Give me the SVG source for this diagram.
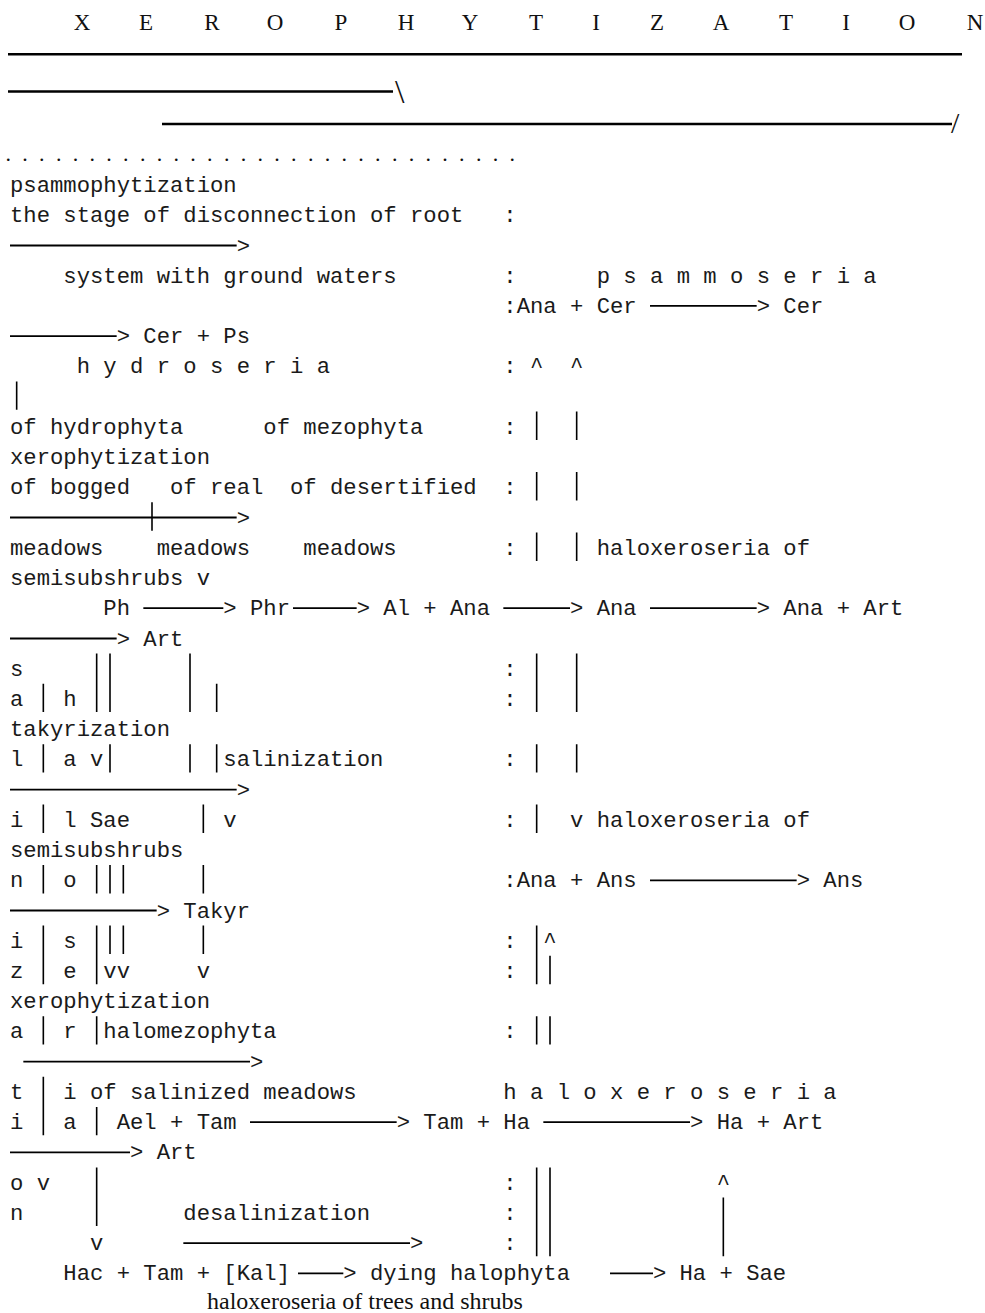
<svg xmlns="http://www.w3.org/2000/svg" width="985" height="1313" viewBox="0 0 985 1313">
<style>
.m{font-family:"Liberation Mono","Courier New",monospace;font-size:22.22px;fill:#1a1a1a;white-space:pre}
.s{font-family:"Liberation Serif","Times New Roman",serif;fill:#111}
.h{stroke:#000;stroke-width:1.8;fill:none}
.v{stroke:#000;stroke-width:1.6;fill:none}
.r{stroke:#000;stroke-width:2.6;fill:none}
</style>
<rect width="985" height="1313" fill="#fff"/>
<g id="header">
<text class="s" font-size="23" text-anchor="middle" y="29.5" x="82 114 146 179 212 243.5 275 308 341 373.5 406 438 470 503 536 566 596 626.5 657 689 721 753.5 786 816 846 876.5 907 941 975">X E R O P H Y T I Z A T I O N</text>
<text class="s" font-size="34" x="395" y="102.5">\</text>
<text class="s" font-size="30" x="951" y="133">/</text>
<text class="s" font-size="22" x="5.5" y="161" letter-spacing="11.3">...............................</text>
</g>
<g id="connectors">
<line class="r" x1="8" y1="54.3" x2="962" y2="54.3"/>
<line class="r" x1="8" y1="91.5" x2="393" y2="91.5"/>
<line class="r" x1="162" y1="124" x2="952" y2="124"/>
<line class="h" x1="10" y1="245.5" x2="236.67" y2="245.5"/>
<line class="h" x1="650" y1="305.9" x2="756.67" y2="305.9"/>
<line class="h" x1="10" y1="336.2" x2="116.67" y2="336.2"/>
<line class="h" x1="10" y1="517.5" x2="236.67" y2="517.5"/>
<line class="v" x1="152" y1="502.3" x2="152" y2="530.7"/>
<line class="h" x1="143.33" y1="608.2" x2="223.33" y2="608.2"/>
<line class="h" x1="293" y1="608.2" x2="356.67" y2="608.2"/>
<line class="h" x1="503.33" y1="608.2" x2="570" y2="608.2"/>
<line class="h" x1="650" y1="608.2" x2="756.67" y2="608.2"/>
<line class="h" x1="10" y1="638.5" x2="116.67" y2="638.5"/>
<line class="h" x1="10" y1="789.6" x2="236.67" y2="789.6"/>
<line class="h" x1="650" y1="880.3" x2="796.67" y2="880.3"/>
<line class="h" x1="10" y1="910.5" x2="156.67" y2="910.5"/>
<line class="h" x1="23.33" y1="1061.7" x2="250" y2="1061.7"/>
<line class="h" x1="250" y1="1122.1" x2="396.67" y2="1122.1"/>
<line class="h" x1="543.33" y1="1122.1" x2="690" y2="1122.1"/>
<line class="h" x1="10" y1="1152.4" x2="130" y2="1152.4"/>
<line class="h" x1="183.33" y1="1243.1" x2="410" y2="1243.1"/>
<line class="h" x1="298" y1="1273.3" x2="343.33" y2="1273.3"/>
<line class="h" x1="610" y1="1273.3" x2="653" y2="1273.3"/>
<path class="v" d="M16.67 381.4V409.8
M536.67 411.6V440M536.67 472.1V500.5M536.67 532.6V561M536.67 653.5V712.1M536.67 744.2V772.6M536.67 804.6V833M536.67 925.6V984.2M536.67 1016.2V1044.6M536.67 1167.4V1256.3
M576.67 411.6V440M576.67 472.1V500.5M576.67 532.6V561M576.67 653.5V712.1M576.67 744.2V772.6
M550 955.8V984.2M550 1016.2V1044.6M550 1167.4V1256.3
M43.33 683.7V712.1M43.33 744.2V772.6M43.33 804.6V833M43.33 865.1V893.5M43.33 925.6V984.2M43.33 1016.2V1044.6M43.33 1076.7V1135.3
M96.67 653.5V712.1M96.67 865.1V893.5M96.67 925.6V984.2M96.67 1016.2V1044.6M96.67 1106.9V1135.3M96.67 1167.4V1226
M110 653.5V712.1M110 744.2V772.6M110 865.1V893.5M110 925.6V954
M123.33 865.1V893.5M123.33 925.6V954
M190 653.5V712.1M190 744.2V772.6
M216.67 683.7V712.1M216.67 744.2V772.6
M203.33 804.6V833M203.33 865.1V893.5M203.33 925.6V954
M723.33 1197.6V1256.3"/>
</g>
<g id="left-column">
<text class="m" x="10" y="192">psammophytization</text>
<text class="m" x="10" y="222.2">the stage of disconnection of root</text>
<text class="m" x="236.67" y="252.5">&gt;</text>
<text class="m" x="63.33" y="282.7">system with ground waters</text>
<text class="m" x="116.67" y="343.2">&gt;</text>
<text class="m" x="143.33" y="343.2">Cer + Ps</text>
<text class="m" x="76.67" y="373.4">h y d r o s e r i a</text>
<text class="m" x="10" y="433.8">of hydrophyta</text>
<text class="m" x="263.33" y="433.8">of mezophyta</text>
<text class="m" x="10" y="464.1">xerophytization</text>
<text class="m" x="10" y="494.3">of bogged</text>
<text class="m" x="170" y="494.3">of real</text>
<text class="m" x="290" y="494.3">of desertified</text>
<text class="m" x="236.67" y="524.5">&gt;</text>
<text class="m" x="10" y="554.8">meadows</text>
<text class="m" x="156.67" y="554.8">meadows</text>
<text class="m" x="303.33" y="554.8">meadows</text>
<text class="m" x="10" y="585">semisubshrubs v</text>
</g>
<g id="main-row">
<text class="m" x="103.33" y="615.2">Ph</text>
<text class="m" x="223.33" y="615.2">&gt;</text>
<text class="m" x="250" y="615.2">Phr</text>
<text class="m" x="356.67" y="615.2">&gt;</text>
<text class="m" x="383.33" y="615.2">Al + Ana</text>
<text class="m" x="570" y="615.2">&gt;</text>
<text class="m" x="596.67" y="615.2">Ana</text>
<text class="m" x="756.67" y="615.2">&gt;</text>
<text class="m" x="783.33" y="615.2">Ana + Art</text>
<text class="m" x="116.67" y="645.5">&gt;</text>
<text class="m" x="143.33" y="645.5">Art</text>
</g>
<g id="salinization-block">
<text class="m" x="10" y="675.7">s</text>
<text class="m" x="10" y="705.9">a</text>
<text class="m" x="63.33" y="705.9">h</text>
<text class="m" x="10" y="736.1">takyrization</text>
<text class="m" x="10" y="766.4">l</text>
<text class="m" x="63.33" y="766.4">a</text>
<text class="m" x="90" y="766.4">v</text>
<text class="m" x="223.33" y="766.4">salinization</text>
<text class="m" x="236.67" y="796.6">&gt;</text>
<text class="m" x="10" y="826.8">i</text>
<text class="m" x="63.33" y="826.8">l</text>
<text class="m" x="90" y="826.8">Sae</text>
<text class="m" x="223.33" y="826.8">v</text>
<text class="m" x="10" y="857.1">semisubshrubs</text>
<text class="m" x="10" y="887.3">n</text>
<text class="m" x="63.33" y="887.3">o</text>
<text class="m" x="156.67" y="917.5">&gt;</text>
<text class="m" x="183.33" y="917.5">Takyr</text>
<text class="m" x="10" y="947.8">i</text>
<text class="m" x="63.33" y="947.8">s</text>
<text class="m" x="10" y="978">z</text>
<text class="m" x="63.33" y="978">e</text>
<text class="m" x="103.33" y="978">vv</text>
<text class="m" x="196.67" y="978">v</text>
<text class="m" x="10" y="1008.2">xerophytization</text>
<text class="m" x="10" y="1038.4">a</text>
<text class="m" x="63.33" y="1038.4">r</text>
<text class="m" x="103.33" y="1038.4">halomezophyta</text>
<text class="m" x="250" y="1068.7">&gt;</text>
<text class="m" x="10" y="1098.9">t</text>
<text class="m" x="63.33" y="1098.9">i of salinized meadows</text>
<text class="m" x="10" y="1129.1">i</text>
<text class="m" x="63.33" y="1129.1">a</text>
</g>
<g id="halo-row">
<text class="m" x="116.67" y="1129.1">Ael + Tam</text>
<text class="m" x="396.67" y="1129.1">&gt;</text>
<text class="m" x="423.33" y="1129.1">Tam + Ha</text>
<text class="m" x="690" y="1129.1">&gt;</text>
<text class="m" x="716.67" y="1129.1">Ha + Art</text>
<text class="m" x="130" y="1159.4">&gt;</text>
<text class="m" x="156.67" y="1159.4">Art</text>
<text class="m" x="10" y="1189.6">o v</text>
<text class="m" x="10" y="1219.8">n</text>
<text class="m" x="183.33" y="1219.8">desalinization</text>
<text class="m" x="90" y="1250.1">v</text>
<text class="m" x="410" y="1250.1">&gt;</text>
<text class="m" x="716.67" y="1189.6">^</text>
</g>
<g id="bottom-row">
<text class="m" x="63.33" y="1280.3">Hac + Tam + [Kal]</text>
<text class="m" x="343.33" y="1280.3">&gt;</text>
<text class="m" x="370" y="1280.3">dying halophyta</text>
<text class="m" x="653" y="1280.3">&gt;</text>
<text class="m" x="679.5" y="1280.3">Ha + Sae</text>
<text class="s" font-size="24" x="207" y="1309">haloxeroseria of trees and shrubs</text>
</g>
<g id="right-column">
<text class="m" x="503.33" y="222.2">:</text>
<text class="m" x="503.33" y="282.7">:</text>
<text class="m" x="596.67" y="282.7">p s a m m o s e r i a</text>
<text class="m" x="503.33" y="312.9">:Ana + Cer</text>
<text class="m" x="756.67" y="312.9">&gt;</text>
<text class="m" x="783.33" y="312.9">Cer</text>
<text class="m" x="503.33" y="373.4">:</text>
<text class="m" x="530" y="373.4">^</text>
<text class="m" x="570" y="373.4">^</text>
<text class="m" x="503.33" y="433.8">:</text>
<text class="m" x="503.33" y="494.3">:</text>
<text class="m" x="503.33" y="554.8">:</text>
<text class="m" x="596.67" y="554.8">haloxeroseria of</text>
<text class="m" x="503.33" y="675.7">:</text>
<text class="m" x="503.33" y="705.9">:</text>
<text class="m" x="503.33" y="766.4">:</text>
<text class="m" x="503.33" y="826.8">:</text>
<text class="m" x="570" y="826.8">v haloxeroseria of</text>
<text class="m" x="503.33" y="887.3">:Ana + Ans</text>
<text class="m" x="796.67" y="887.3">&gt;</text>
<text class="m" x="823.33" y="887.3">Ans</text>
<text class="m" x="503.33" y="947.8">:</text>
<text class="m" x="543.33" y="947.8">^</text>
<text class="m" x="503.33" y="978">:</text>
<text class="m" x="503.33" y="1038.4">:</text>
<text class="m" x="503.33" y="1098.9">h a l o x e r o s e r i a</text>
<text class="m" x="503.33" y="1189.6">:</text>
<text class="m" x="503.33" y="1219.8">:</text>
<text class="m" x="503.33" y="1250.1">:</text>
</g>
</svg>
